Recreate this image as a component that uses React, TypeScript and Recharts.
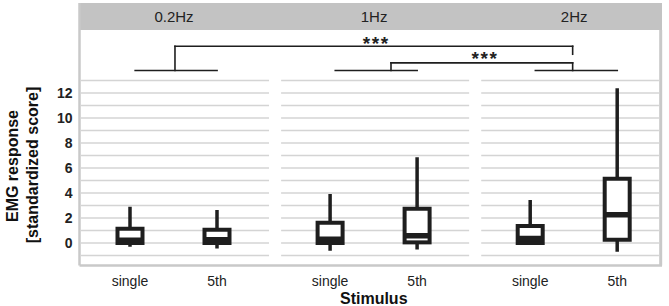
import React from 'react';
import {
  ComposedChart,
  Bar,
  XAxis,
  YAxis,
  ReferenceLine,
  ReferenceArea,
  ReferenceDot
} from 'recharts';

// facet panels and stimuli inside each panel
const PANELS = ['0.2Hz', '1Hz', '2Hz'];
const STIMULI = ['single', '5th'];

// box plot values, order: 0.2Hz single, 0.2Hz 5th, 1Hz single, 1Hz 5th, 2Hz single, 2Hz 5th
const WHISKER_LOW = [-0.3, -0.43, -0.61, -0.51, 0, -0.69];
const Q1 = [0, 0, 0, 0.05, 0, 0.26];
const MEDIAN = [0.22, 0.26, 0.3, 0.58, 0.36, 2.26];
const Q3 = [1.14, 1.06, 1.62, 2.74, 1.36, 5.14];
const WHISKER_HIGH = [2.9, 2.64, 3.92, 6.86, 3.44, 12.38];

const Y_TICKS = [0, 2, 4, 6, 8, 10, 12];
const GRID_VALUES = [-1, 0, 1, 2, 3, 4, 5, 6, 7, 8, 9, 10, 11, 12, 13];

// significance brackets: [x, y] corners in chart units
const BRACKETS = [
  { label: '***', path: [[0.517, 13.8], [0.517, 15.74], [5.088, 15.74], [5.088, 15.1]], labelAt: [2.83, 15.45] },
  { label: '***', path: [[3.0, 13.8], [3.0, 14.41], [5.088, 14.41], [5.088, 13.8]], labelAt: [4.08, 14.25] }
];

const PANEL_STEP = 2.3;
const X_DOMAIN: [number, number] = [-0.5805, 6.115];
const Y_DOMAIN: [number, number] = [-1.8, 19.2];
const HEADER_BOTTOM = 17.04;
const INK = '#1e1e1e';
const GRID = '#d4d4d4';
const FRAME = '#c9c9c9';
const FONT = '"Liberation Sans", Arial, sans-serif';

const rows = PANELS.flatMap((panel, k) =>
  STIMULI.map((stimulus, j) => {
    const i = k * STIMULI.length + j;
    return {
      pos: k * PANEL_STEP + j,
      panel,
      stimulus,
      min: WHISKER_LOW[i],
      q1: Q1[i],
      median: MEDIAN[i],
      q3: Q3[i],
      max: WHISKER_HIGH[i]
    };
  })
);
const positions = rows.map(r => r.pos);

const BoxShape = (props: any) => {
  const { x, y, width, height, payload } = props;
  const top = Math.min(y, y + height);
  const h = Math.abs(height);
  const { min, max, q1, median, q3 } = payload;
  const py = (v: number) => top + (h * (max - v)) / (max - min);
  const cx = x + width / 2;
  return (
    <g>
      <line x1={cx} x2={cx} y1={py(max)} y2={py(q3)} stroke={INK} strokeWidth={3.5} />
      <line x1={cx} x2={cx} y1={py(q1)} y2={py(min)} stroke={INK} strokeWidth={3.5} />
      <rect x={x} y={py(q3)} width={width} height={py(q1) - py(q3)} fill="#fff" stroke={INK} strokeWidth={4} />
      <line x1={x} x2={x + width} y1={py(median)} y2={py(median)} stroke={INK} strokeWidth={5.5} />
    </g>
  );
};

const textAt = (text: string, style: any) => (props: any) => {
  const vb = props.viewBox || {};
  return (
    <text x={vb.x + (vb.width || 0) / 2} y={vb.y + (vb.height || 0) / 2} textAnchor="middle" style={{ fontFamily: FONT, ...style }}>
      {text}
    </text>
  );
};

const YLabel = () => (
  <g style={{ fontFamily: FONT, fontSize: 16, fontWeight: 'bold' }} fill="#111">
    <text x={17.5} y={166} transform="rotate(-90 17.5 166)" textAnchor="middle">EMG response</text>
    <text x={38.4} y={165} transform="rotate(-90 38.4 165)" textAnchor="middle">[standardized score]</text>
  </g>
);

export default function App() {
  return (
    <div style={{ width: 669, height: 306, fontFamily: FONT }}>
      <style>{'body{margin:0}'}</style>
      <ComposedChart width={669} height={306} data={rows} margin={{ top: 3, right: 7, bottom: 0, left: 0 }}>
        <XAxis
          dataKey="pos"
          type="number"
          domain={X_DOMAIN}
          allowDataOverflow
          ticks={positions}
          interval={0}
          tickFormatter={(_v: number, i: number) => STIMULI[i % STIMULI.length]}
          tickLine={false}
          tickMargin={5}
          tick={{ fontSize: 14, fill: '#222', fontFamily: FONT }}
          axisLine={{ stroke: FRAME, strokeWidth: 2.7 }}
          height={40.5}
          label={{ value: 'Stimulus', position: 'insideBottom', offset: 2, dx: 3, fontSize: 16, fontWeight: 'bold', fill: '#111', fontFamily: FONT }}
        />
        <YAxis
          type="number"
          domain={Y_DOMAIN}
          allowDataOverflow
          ticks={Y_TICKS}
          interval={0}
          tickLine={false}
          tickSize={5}
          tickMargin={2}
          tick={{ fontSize: 14, fontWeight: 'bold', fill: '#222', fontFamily: FONT }}
          axisLine={{ stroke: FRAME, strokeWidth: 2.5 }}
          width={79.5}
          label={YLabel}
        />

        {/* strip header */}
        <ReferenceArea x1={X_DOMAIN[0]} x2={X_DOMAIN[1]} y1={HEADER_BOTTOM} y2={Y_DOMAIN[1]} fill="#c3c3c3" fillOpacity={1} stroke="none" />
        {PANELS.map((p, k) => (
          <ReferenceDot
            key={`h-${p}`}
            x={0.506 + k * PANEL_STEP}
            y={17.7}
            r={0}
            fill="none"
            stroke="none"
            label={textAt(p, { fontSize: 15, fill: '#222' })}
          />
        ))}

        {/* per-panel horizontal grid, kept under the boxes */}
        {PANELS.flatMap((p, k) =>
          GRID_VALUES.map(v => (
            <ReferenceLine
              key={`g-${p}-${v}`}
              segment={[
                { x: -0.563 + k * PANEL_STEP, y: v },
                { x: Math.min(1.598 + k * PANEL_STEP, 6.08), y: v }
              ]}
              stroke={GRID}
              strokeWidth={1.5}
              zIndex={-10}
            />
          ))
        )}

        {/* right frame */}
        <ReferenceLine segment={[{ x: 6.1, y: Y_DOMAIN[0] }, { x: 6.1, y: HEADER_BOTTOM }]} stroke={FRAME} strokeWidth={3} />

        {/* panel bars under brackets */}
        {PANELS.map((p, k) => (
          <ReferenceLine
            key={`pb-${p}`}
            segment={[{ x: 0.05 + k * PANEL_STEP, y: 13.8 }, { x: 1.01 + k * PANEL_STEP, y: 13.8 }]}
            stroke={INK}
            strokeWidth={1.6}
          />
        ))}
        {BRACKETS.flatMap((b, bi) =>
          b.path.slice(1).map((pt, si) => (
            <ReferenceLine
              key={`b-${bi}-${si}`}
              segment={[{ x: b.path[si][0], y: b.path[si][1] }, { x: pt[0], y: pt[1] }]}
              stroke={INK}
              strokeWidth={1.6}
              strokeLinecap="square"
            />
          ))
        )}
        {BRACKETS.map((b, bi) => (
          <ReferenceDot
            key={`bl-${bi}`}
            x={b.labelAt[0]}
            y={b.labelAt[1]}
            r={0}
            fill="none"
            stroke="none"
            label={textAt(b.label, { fontSize: 19, fontWeight: 'bold', fill: '#222', letterSpacing: 1.5 })}
          />
        ))}

        <Bar dataKey={(d: any) => [d.min, d.max]} barSize={25} shape={BoxShape} isAnimationActive={false} zIndex={1000} />
      </ComposedChart>
    </div>
  );
}
